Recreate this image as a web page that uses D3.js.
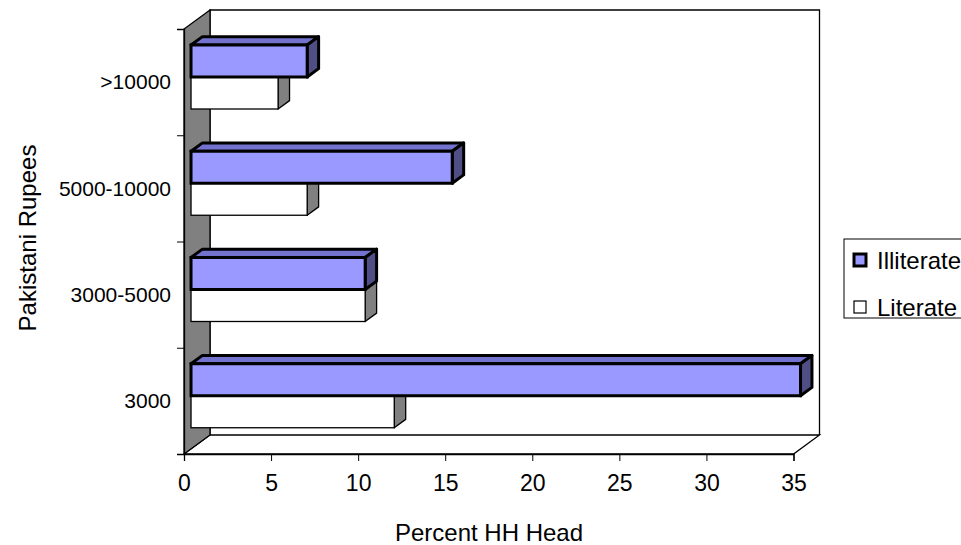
<!DOCTYPE html>
<html>
<head>
<meta charset="utf-8">
<script src="https://cdn.jsdelivr.net/npm/d3@7"></script>
<style>
  html, body { margin: 0; padding: 0; background: #fff; }
  svg { display: block; font-family: Arial, "Liberation Sans", sans-serif; }
</style>
</head>
<body>
<svg id="chart" width="961" height="545"></svg>
<script>
// Income bands (bottom to top) and share of household heads per band
const categories = ["3000", "3000-5000", "5000-10000", ">10000"];
const illiterate = [35, 10, 15, 6.67];
const literate = [11.67, 10, 6.67, 5];
const seriesNames = ["Illiterate", "Literate"];
const xTicks = [0, 5, 10, 15, 20, 25, 30, 35];

(function () {
const svg = d3.select("#chart");

// Front plane of the 3D box and the depth offset toward the back wall
const pLeft = 184, pRight = 793.5, pBottom = 454, pTop = 29;
const DX = 26, DY = 19;
// Bars occupy this slice of the depth
const d0 = 0.27, d1 = 0.71;

const x = d3.scaleLinear().domain([0, 35]).range([pLeft, pRight]);
const yIdx = d3.scaleLinear().domain([0, categories.length]).range([pBottom, pTop]);
const yBand = d3.scaleBand().domain(categories).range([pBottom, pTop]).padding(0);
const ySub = d3.scaleBand().domain(seriesNames).range([0, yBand.bandwidth()])
  .paddingInner(0).paddingOuter(0.66);

const styles = {
  Illiterate: { front: "#9999ff", top: "#7373cf", side: "#4f4f86", stroke: "#000", sw: 3 },
  Literate:   { front: "#ffffff", top: "#c0c0c0", side: "#808080", stroke: "#000", sw: 1.3 }
};

// Floor
const g = svg.append("g");
g.append("polygon")
  .attr("points", [[pLeft, pBottom], [pLeft + DX, pBottom - DY], [pRight + DX, pBottom - DY], [pRight, pBottom]].join(" "))
  .attr("fill", "#fff").attr("stroke", "#000").attr("stroke-width", 1.3);

// Back wall (top and right edges)
g.append("path")
  .attr("d", `M${pLeft + DX},${pBottom - DY} V${pTop - DY} H${pRight + DX} V${pBottom - DY}`)
  .attr("fill", "none").attr("stroke", "#000").attr("stroke-width", 1.3);

// Side wall
g.append("polygon")
  .attr("points", [[pLeft, pBottom], [pLeft, pTop], [pLeft + DX, pTop - DY], [pLeft + DX, pBottom - DY]].join(" "))
  .attr("fill", "#808080").attr("stroke", "#000").attr("stroke-width", 1.3);

// Category axis ticks (band boundaries) and labels
const yAxis = d3.axisLeft(yIdx).tickValues(d3.range(categories.length + 1)).tickSize(7).tickFormat("");
const ya = svg.append("g").attr("transform", `translate(${pLeft},0)`).call(yAxis);
ya.select(".domain").attr("stroke", "#000").attr("stroke-width", 1.3);
ya.selectAll(".tick line").attr("stroke", "#000");

svg.append("g").selectAll("text").data(categories).join("text")
  .attr("x", pLeft - 13)
  .attr("y", d => yBand(d) + yBand.bandwidth() / 2)
  .attr("dy", "0.35em")
  .attr("text-anchor", "end")
  .attr("font-size", 21)
  .attr("fill", "#000")
  .text(d => d);

// Value axis along the front edge of the floor
const xAxis = d3.axisBottom(x).tickValues(xTicks).tickSize(7).tickPadding(14).tickFormat(d3.format("d"));
const xa = svg.append("g").attr("transform", `translate(0,${pBottom})`).call(xAxis);
xa.select(".domain").attr("stroke", "#000").attr("stroke-width", 1.3);
xa.selectAll(".tick line").attr("stroke", "#000");
xa.selectAll(".tick text").attr("font-size", 23).attr("fill", "#000").attr("font-family", "Arial, 'Liberation Sans', sans-serif");

// 3D bars
const rows = categories.map((c, i) => ({ cat: c, Illiterate: illiterate[i], Literate: literate[i] }));
const ox = d0 * DX, oy = d0 * DY;
const ddx = (d1 - d0) * DX, ddy = (d1 - d0) * DY;

function drawBar(sel, cat, series, v) {
  const s = styles[series];
  const x0 = x(0) + ox, x1 = x(v) + ox;
  const y0 = yBand(cat) + ySub(series) - oy;
  const y1 = y0 + ySub.bandwidth();
  const bg = sel.append("g").attr("class", "bar " + series);
  bg.append("polygon")
    .attr("points", [[x0, y0], [x0 + ddx, y0 - ddy], [x1 + ddx, y0 - ddy], [x1, y0]].join(" "))
    .attr("fill", s.top).attr("stroke", s.stroke).attr("stroke-width", s.sw).attr("stroke-linejoin", "round");
  bg.append("polygon")
    .attr("points", [[x1, y0], [x1 + ddx, y0 - ddy], [x1 + ddx, y1 - ddy], [x1, y1]].join(" "))
    .attr("fill", s.side).attr("stroke", s.stroke).attr("stroke-width", s.sw).attr("stroke-linejoin", "round");
  bg.append("rect")
    .attr("x", x0).attr("y", y0).attr("width", x1 - x0).attr("height", y1 - y0)
    .attr("fill", s.front).attr("stroke", s.stroke).attr("stroke-width", s.sw);
}

const barsG = svg.append("g");
rows.slice().reverse().forEach(r => {
  drawBar(barsG, r.cat, "Literate", r.Literate);
  drawBar(barsG, r.cat, "Illiterate", r.Illiterate);
});

// Axis titles
svg.append("text")
  .attr("x", 489).attr("y", 541)
  .attr("text-anchor", "middle").attr("font-size", 24).attr("fill", "#000")
  .text("Percent HH Head");
svg.append("text")
  .attr("transform", `translate(36,238) rotate(-90)`)
  .attr("text-anchor", "middle").attr("font-size", 24).attr("fill", "#000")
  .text("Pakistani Rupees");

// Legend
const lg = svg.append("g").attr("transform", "translate(844,239)");
lg.append("rect").attr("x", 0).attr("y", 0).attr("width", 140).attr("height", 79)
  .attr("fill", "#fff").attr("stroke", "#000").attr("stroke-width", 1);
seriesNames.forEach((n, i) => {
  const s = styles[n];
  const cy = 21 + i * 47;
  lg.append("rect").attr("x", 10).attr("y", cy - 6).attr("width", 12).attr("height", 12)
    .attr("fill", s.front).attr("stroke", "#000").attr("stroke-width", n === "Illiterate" ? 3 : 1.2);
  lg.append("text").attr("x", 33).attr("y", cy).attr("dy", "0.36em")
    .attr("font-size", 24).attr("fill", "#000").text(n);
});
})();
</script>
</body>
</html>
